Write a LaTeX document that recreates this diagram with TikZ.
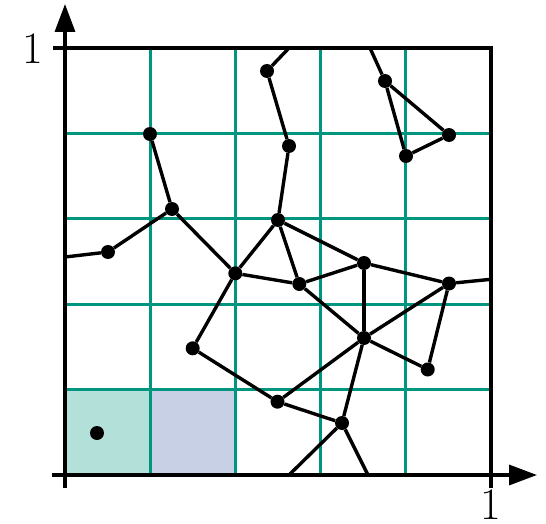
\documentclass[tikz,border=0pt]{standalone}
\usetikzlibrary{arrows.meta}
\definecolor{gridgreen}{HTML}{00957F}
\definecolor{cellteal}{HTML}{B3E0D9}
\definecolor{celllav}{HTML}{C8D0E5}
\begin{document}
\begin{tikzpicture}[x=1pt,y=-1pt,
  edge/.style={line width=3.4pt,black},
  gline/.style={line width=3.2pt,gridgreen},
  axis/.style={line width=3.4pt,black},
  dot/.style={circle,fill=black,inner sep=0pt,minimum size=14pt},
  lbl/.style={font=\fontsize{45}{48}\selectfont,inner sep=0pt}]
\useasboundingbox (0,0) rectangle (546,524);
% shaded cells
\fill[cellteal] (65,389.6) rectangle (150.2,475);
\fill[celllav] (150.2,389.6) rectangle (235.4,475);
% grid
\foreach \x in {150.2,235.4,320.6,405.8} \draw[gline] (\x,48) -- (\x,475);
\foreach \y in {133.4,218.8,304.2,389.6} \draw[gline] (65,\y) -- (491,\y);
% nodes
\node[dot] (p0) at (97,433) {};
\node[dot] (a) at (267,71) {};
\node[dot] (b) at (385,81) {};
\node[dot] (c) at (449,135) {};
\node[dot] (d) at (406,156) {};
\node[dot] (e) at (150,134) {};
\node[dot] (f) at (289,146) {};
\node[dot] (g) at (172,209) {};
\node[dot] (h) at (278,220) {};
\node[dot] (i) at (108,252) {};
\node[dot] (j) at (235.3,273.3) {};
\node[dot] (k) at (299.3,284) {};
\node[dot] (l) at (364,263) {};
\node[dot] (m) at (449,283.5) {};
\node[dot] (n) at (364,338) {};
\node[dot] (o) at (192.7,348.3) {};
\node[dot] (q) at (427.7,369.5) {};
\node[dot] (r) at (277.5,401.7) {};
\node[dot] (s) at (342,423) {};
\coordinate (ta) at (289,48);
\coordinate (tb) at (370,48);
\coordinate (li) at (65,257);
\coordinate (rm) at (491,279.3);
\coordinate (bs1) at (289,475);
\coordinate (bs2) at (368,475);
% edges
\draw[edge] (a) -- (ta);
\draw[edge] (b) -- (tb);
\draw[edge] (b) -- (c);
\draw[edge] (c) -- (d);
\draw[edge] (d) -- (b);
\draw[edge] (a) -- (f);
\draw[edge] (f) -- (h);
\draw[edge] (e) -- (g);
\draw[edge] (g) -- (i);
\draw[edge] (i) -- (li);
\draw[edge] (g) -- (j);
\draw[edge] (h) -- (j);
\draw[edge] (h) -- (k);
\draw[edge] (h) -- (l);
\draw[edge] (j) -- (k);
\draw[edge] (k) -- (l);
\draw[edge] (l) -- (m);
\draw[edge] (m) -- (rm);
\draw[edge] (l) -- (n);
\draw[edge] (k) -- (n);
\draw[edge] (m) -- (n);
\draw[edge] (m) -- (q);
\draw[edge] (n) -- (q);
\draw[edge] (j) -- (o);
\draw[edge] (o) -- (r);
\draw[edge] (r) -- (n);
\draw[edge] (r) -- (s);
\draw[edge] (n) -- (s);
\draw[edge] (s) -- (bs1);
\draw[edge] (s) -- (bs2);
% axes and frame
\coordinate (ytop) at (65,4);
\coordinate (ybot) at (65,488);
\coordinate (xleft) at (52,475);
\coordinate (xright) at (537,475);
\coordinate (tl) at (53,48);
\coordinate (tr) at (491,48);
\coordinate (br) at (491,488);
\draw[axis] (tl) -- (tr) -- (br);
\draw[axis,-{Triangle[length=28pt,width=20pt]}] (ybot) -- (ytop);
\draw[axis,-{Triangle[length=28pt,width=20pt]}] (xleft) -- (xright);
\node[lbl,anchor=center] (ly) at (32.5,49) {1};
\node[lbl,anchor=north] (lx) at (491,490) {1};
\end{tikzpicture}
\end{document}
